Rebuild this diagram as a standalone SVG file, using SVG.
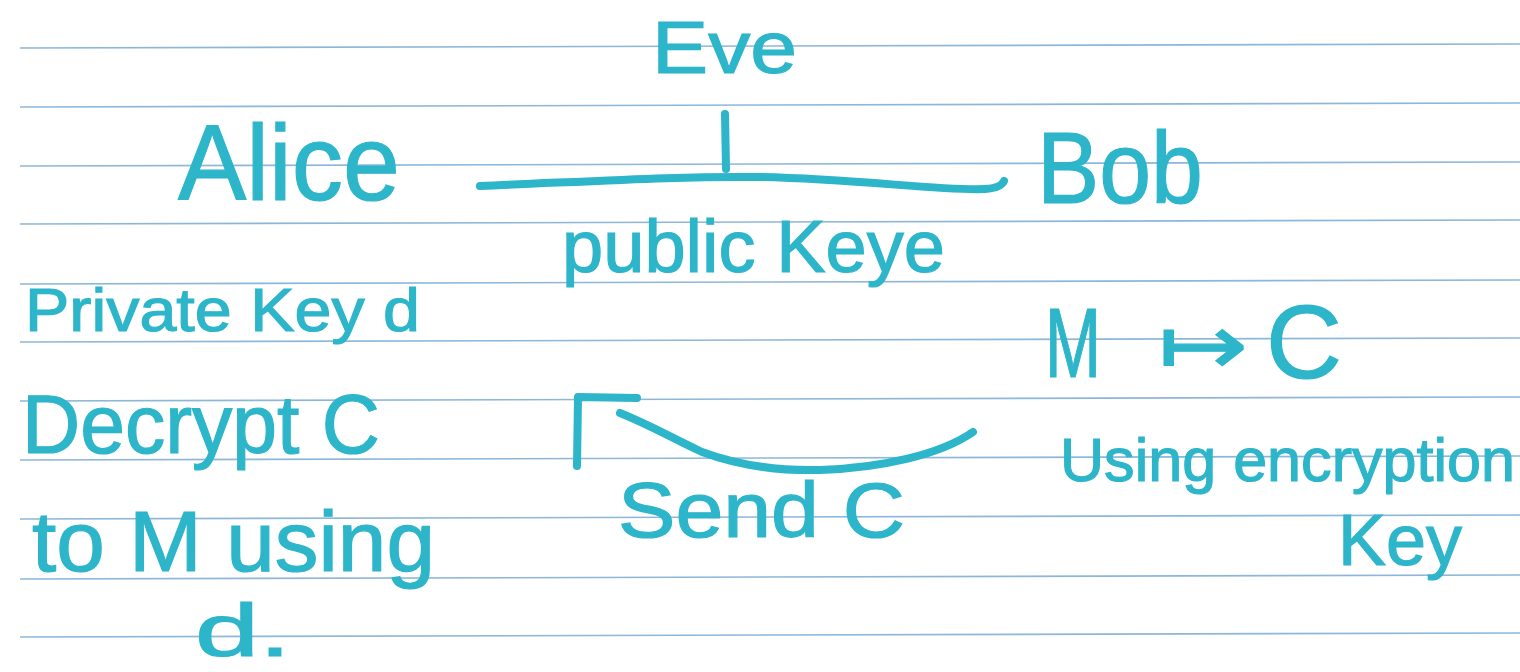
<svg xmlns="http://www.w3.org/2000/svg" width="1520" height="672" viewBox="0 0 1520 672">
  <style>
    .rule { stroke: #8db7d9; stroke-width: 1.6; fill: none; }
    .ink { fill: #2db5ca; stroke: #2db5ca; stroke-width: 1.2; font-family: "Liberation Sans", Arial, sans-serif; }
    .pen { fill: none; stroke: #2db5ca; stroke-width: 8; stroke-linecap: round; stroke-linejoin: round; }
  </style>
  <rect width="1520" height="672" fill="#ffffff"/>
  <g id="paper-lines">
    <line class="rule" x1="20" y1="48" x2="1520" y2="44"/>
    <line class="rule" x1="20" y1="107" x2="1520" y2="103"/>
    <line class="rule" x1="20" y1="166" x2="1520" y2="162"/>
    <line class="rule" x1="20" y1="224" x2="1520" y2="220"/>
    <line class="rule" x1="20" y1="284" x2="1520" y2="280"/>
    <line class="rule" x1="20" y1="342" x2="1520" y2="338"/>
    <line class="rule" x1="20" y1="401" x2="1520" y2="397"/>
    <line class="rule" x1="20" y1="460" x2="1520" y2="456"/>
    <line class="rule" x1="20" y1="519" x2="1520" y2="515"/>
    <line class="rule" x1="20" y1="579" x2="1520" y2="575"/>
    <line class="rule" x1="20" y1="637" x2="1520" y2="633"/>
  </g>
  <g id="connectors">
    <path id="channel" class="pen" d="M480,186 C600,181 680,176 760,177 C860,179 940,191 985,189 Q1001,188 1004,181"/>
    <path id="eve-tap" class="pen" d="M725,114 L726,169"/>
    <path id="send-c" class="pen" d="M577,466 L578,397 L637,398 M620,413 C650,425 668,436 702,452 C740,466 780,471 820,470 C880,468 940,455 973,432"/>
  </g>
  <g id="node-eve">
    <text class="ink" x="652" y="73" font-size="74" textLength="145" lengthAdjust="spacingAndGlyphs">Eve</text>
  </g>
  <g id="node-alice">
    <text class="ink" x="178" y="200" font-size="108" textLength="222" lengthAdjust="spacingAndGlyphs">Alice</text>
    <text class="ink" x="25" y="331" font-size="62" textLength="395" lengthAdjust="spacingAndGlyphs">Private Key d</text>
    <text class="ink" x="22" y="453" font-size="84" textLength="358" lengthAdjust="spacingAndGlyphs">Decrypt C</text>
    <text class="ink" x="32" y="571" font-size="86" textLength="403" lengthAdjust="spacingAndGlyphs">to M using</text>
    <text class="ink" x="195" y="656" font-size="74" textLength="96" lengthAdjust="spacingAndGlyphs">d.</text>
  </g>
  <g id="node-bob">
    <text class="ink" x="1037" y="203" font-size="102" textLength="166" lengthAdjust="spacingAndGlyphs">Bob</text>
    <text class="ink" x="1045" y="377" font-size="98" textLength="56" lengthAdjust="spacingAndGlyphs">M</text>
    <text class="ink" x="1158" y="374" font-size="84" textLength="90" lengthAdjust="spacingAndGlyphs" style="font-family:'DejaVu Sans',sans-serif">↦</text>
    <text class="ink" x="1266" y="378" font-size="104" textLength="76" lengthAdjust="spacingAndGlyphs">C</text>
    <text class="ink" x="1060" y="481" font-size="62" textLength="455" lengthAdjust="spacingAndGlyphs">Using encryption</text>
    <text class="ink" x="1338" y="565" font-size="72" textLength="124" lengthAdjust="spacingAndGlyphs">Key</text>
  </g>
  <g id="labels">
    <text class="ink" x="562" y="272" font-size="74" textLength="383" lengthAdjust="spacingAndGlyphs">public Keye</text>
    <text class="ink" x="618" y="537" font-size="78" textLength="287" lengthAdjust="spacingAndGlyphs">Send C</text>
  </g>
</svg>
